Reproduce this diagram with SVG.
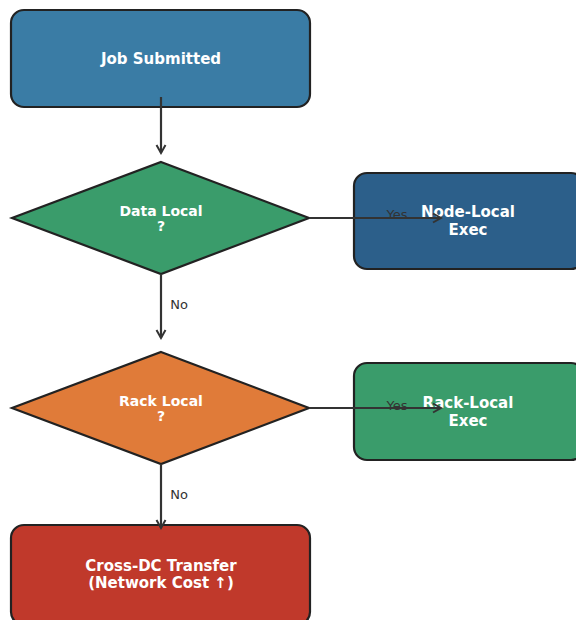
<svg xmlns="http://www.w3.org/2000/svg" width="576" height="620" viewBox="0 0 576 620">
<defs>
<marker id="arr" markerWidth="12" markerHeight="12" refX="10" refY="6" orient="auto" markerUnits="userSpaceOnUse">
<path d="M2,1.5 L10,6 L2,10.5" fill="none" stroke="#333" stroke-width="2"/>
</marker>
</defs>
<style>
.box{stroke:#222;stroke-width:2.2}
.t{font-family:"DejaVu Sans",sans-serif;font-weight:bold;font-size:15px;fill:#fff;text-anchor:middle}
.d{font-size:14px}
.lbl{font-family:"DejaVu Sans",sans-serif;font-size:13px;fill:#333;text-anchor:middle}
.c{stroke:#333;stroke-width:2.2;fill:none;marker-end:url(#arr)}
</style>
<rect width="576" height="620" fill="#fff"/>
<g id="job">
<rect class="box" x="11" y="10" width="299" height="97" rx="13" fill="#3a7ca5"/>
<text class="t" x="161" y="64">Job Submitted</text>
</g>
<g id="datalocal">
<polygon class="box" points="161,162 309,218 161,274 12,218" fill="#3a9c6b"/>
<text class="t d" x="161" y="216">Data Local</text>
<text class="t d" x="161" y="231">?</text>
</g>
<g id="nodelocal">
<rect class="box" x="354" y="173" width="230" height="96" rx="13" fill="#2c5f8a"/>
<text class="t" x="468" y="217">Node-Local</text>
<text class="t" x="468" y="235">Exec</text>
</g>
<g id="racklocal">
<polygon class="box" points="161,352 309,408 161,464 12,408" fill="#e07b39"/>
<text class="t d" x="161" y="406">Rack Local</text>
<text class="t d" x="161" y="421">?</text>
</g>
<g id="rackexec">
<rect class="box" x="354" y="363" width="230" height="97" rx="13" fill="#3a9c6b"/>
<text class="t" x="468" y="408">Rack-Local</text>
<text class="t" x="468" y="426">Exec</text>
</g>
<g id="crossdc">
<rect class="box" x="11" y="525" width="299" height="100" rx="13" fill="#c0392b"/>
<text class="t" x="161" y="571">Cross-DC Transfer</text>
<text class="t" x="161" y="588">(Network Cost ↑)</text>
</g>
<g id="connectors">
<line class="c" x1="161" y1="97" x2="161" y2="153"/>
<line class="c" x1="309" y1="218" x2="441" y2="218"/>
<line class="c" x1="161" y1="274" x2="161" y2="338"/>
<line class="c" x1="309" y1="408" x2="441" y2="408"/>
<line class="c" x1="161" y1="464" x2="161" y2="528"/>
<text class="lbl" x="397" y="219">Yes</text>
<text class="lbl" x="179" y="309">No</text>
<text class="lbl" x="397" y="410">Yes</text>
<text class="lbl" x="179" y="499">No</text>
</g>
</svg>
